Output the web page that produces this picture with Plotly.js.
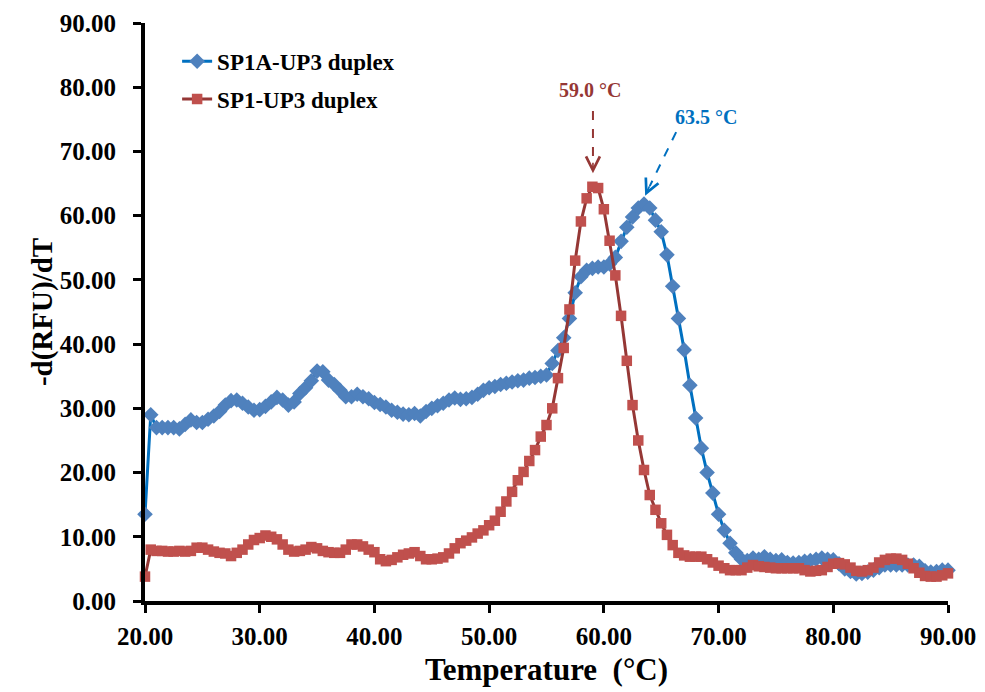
<!DOCTYPE html>
<html>
<head>
<meta charset="utf-8">
<script src="https://cdn.plot.ly/plotly-3.0.1.min.js"></script>
<style>html,body{margin:0;padding:0;background:#fff;}#chart{width:985px;height:692px;}</style>
</head>
<body>
<div id="chart"></div>
<script>
// Temperatures (°C)
const temps = [20,20.5,21,21.5,22,22.5,23,23.5,24,24.5,25,25.5,26,26.5,27,27.5,28,28.5,29,29.5,
30,30.5,31,31.5,32,32.5,33,33.5,34,34.5,35,35.5,36,36.5,37,37.5,38,38.5,39,39.5,
40,40.5,41,41.5,42,42.5,43,43.5,44,44.5,45,45.5,46,46.5,47,47.5,48,48.5,49,49.5,
50,50.5,51,51.5,52,52.5,53,53.5,54,54.5,55,55.5,56,56.5,57,57.5,58,58.5,59,59.5,
60,60.5,61,61.5,62,62.5,63,63.5,64,64.5,65,65.5,66,66.5,67,67.5,68,68.5,69,69.5,
70,70.5,71,71.5,72,72.5,73,73.5,74,74.5,75,75.5,76,76.5,77,77.5,78,78.5,79,79.5,
80,80.5,81,81.5,82,82.5,83,83.5,84,84.5,85,85.5,86,86.5,87,87.5,88,88.5,89,89.5,90];

// SP1A-UP3 duplex
const sp1aUp3 = [13.5,29.0,27.0,27.0,27.0,27.0,26.8,27.5,28.2,27.8,27.8,28.3,28.8,29.5,30.5,31.2,31.3,30.8,30.2,29.7,
29.8,30.3,31.0,31.7,31.3,30.5,31.0,32.3,33.2,34.3,35.8,35.7,34.4,33.7,32.8,31.8,31.8,32.2,31.8,31.5,
30.9,30.6,30.2,29.7,29.4,29.1,29.0,29.2,28.8,29.5,30.0,30.4,30.8,31.3,31.6,31.4,31.5,31.7,32.2,32.8,
33.2,33.4,33.7,33.9,34.1,34.3,34.4,34.7,34.8,35.0,35.2,37.0,39.0,41.0,44.0,48.0,50.5,51.5,51.8,52.0,
52.0,52.5,53.5,56.0,58.2,59.8,61.2,61.8,61.2,59.3,57.5,53.9,49.0,44.0,39.1,33.6,28.5,23.8,20.0,16.8,
13.5,11.0,9.0,7.5,6.5,6.3,6.7,6.5,6.9,6.5,6.3,6.4,6.0,5.9,6.0,6.2,6.3,6.5,6.7,6.5,
6.4,5.8,5.0,4.6,4.2,4.3,4.5,4.8,5.2,5.6,5.6,5.6,5.6,5.6,5.6,5.4,4.7,4.5,4.6,4.8,4.8];

// SP1-UP3 duplex
const sp1Up3 = [3.8,8.0,7.8,7.8,7.7,7.7,7.8,7.7,7.8,8.3,8.3,8.0,7.7,7.5,7.4,7.0,7.5,8.0,8.8,9.5,
9.8,10.2,10.0,9.6,8.8,8.0,7.7,7.8,8.0,8.4,8.2,7.8,7.6,7.5,7.5,8.0,8.8,8.8,8.5,8.0,
7.6,6.5,6.2,6.4,6.8,7.2,7.4,7.6,7.0,6.5,6.5,6.6,6.8,7.4,8.2,9.0,9.4,9.9,10.5,11.0,
11.8,12.5,13.9,15.5,17.0,18.8,20.1,21.8,23.5,25.6,27.4,30.0,34.7,39.4,45.4,53.0,59.1,62.7,64.5,64.3,
61.0,56.1,50.7,44.4,37.4,30.5,25.0,20.4,16.5,14.2,12.1,10.3,8.7,7.5,7.1,6.9,6.9,6.9,6.5,6.0,
5.5,5.1,4.8,4.8,4.8,5.2,5.6,5.4,5.3,5.2,5.1,5.1,5.1,5.1,5.1,4.8,4.6,4.7,4.8,5.3,
5.8,5.9,5.7,5.2,4.7,4.6,4.8,5.2,6.0,6.4,6.6,6.6,6.4,5.8,5.1,4.4,3.9,3.8,3.8,4.0,4.3];

const seriesNames = ["SP1A-UP3 duplex", "SP1-UP3 duplex"];
const tickVals = [20,30,40,50,60,70,80,90];
const yTickVals = [0,10,20,30,40,50,60,70,80,90];
const peakLabels = ["59.0 °C", "63.5 °C"];

const serif = "Liberation Serif, Times New Roman, serif";

const traces = [
  {
    x: temps, y: sp1aUp3, name: seriesNames[0], legendgroup: "a", type: "scatter", mode: "lines+markers",
    line: {color: "#0070C0", width: 3},
    marker: {symbol: "diamond", size: 12, color: "#4F81BD"},
    cliponaxis: false
  },
  {
    x: temps, y: sp1Up3, name: seriesNames[1], legendgroup: "b", type: "scatter", mode: "lines+markers",
    line: {color: "#953735", width: 3},
    marker: {symbol: "square", size: 10.5, color: "#C0504D"},
    cliponaxis: false
  }
];

const layout = {
  width: 985, height: 692,
  margin: {l: 145, r: 37, t: 23, b: 91},
  paper_bgcolor: "#fff", plot_bgcolor: "#fff",
  showlegend: true,
  legend: {
    x: 0.04, y: 0.971, xanchor: "left", yanchor: "top",
    font: {family: serif, size: 23, color: "#000", weight: "bold"},
    bgcolor: "rgba(0,0,0,0)", traceorder: "grouped", tracegroupgap: 5
  },
  xaxis: {
    range: [20, 90], tickvals: tickVals, tickformat: ".2f",
    showgrid: false, zeroline: false,
    showline: true, linecolor: "#000", linewidth: 4,
    ticks: "outside", ticklen: 8, tickwidth: 3, tickcolor: "#000",
    ticklabelstandoff: 2,
    tickfont: {family: serif, size: 25, color: "#000", weight: "bold"},
    title: {text: "Temperature  (°C)", font: {family: serif, size: 31, color: "#000", weight: "bold"}, standoff: 10}
  },
  yaxis: {
    range: [0, 90], tickvals: yTickVals, tickformat: ".2f",
    showgrid: false, zeroline: false,
    showline: true, linecolor: "#000", linewidth: 4,
    ticks: "outside", ticklen: 8, tickwidth: 3, tickcolor: "#000",
    ticklabelstandoff: 12,
    tickfont: {family: serif, size: 25, color: "#000", weight: "bold"},
    title: {text: "-d(RFU)/dT", font: {family: serif, size: 29, color: "#000", weight: "bold"}, standoff: 0}
  },
  shapes: [
    {type: "line", xref: "x", yref: "y", x0: 59.05, y0: 76.3, x1: 59.05, y1: 68.0,
     line: {color: "#953735", width: 2, dash: "dash"}},
    {type: "line", xref: "x", yref: "y", x0: 66.3, y0: 73.0, x1: 64.0, y1: 64.6,
     line: {color: "#0070C0", width: 2, dash: "dash"}}
  ],
  annotations: [
    {x: 58.8, y: 79.5, xref: "x", yref: "y", text: peakLabels[0], showarrow: false,
     font: {family: serif, size: 20, color: "#953735", weight: "bold"}},
    {x: 68.9, y: 75.3, xref: "x", yref: "y", text: peakLabels[1], showarrow: false,
     font: {family: serif, size: 20, color: "#0070C0", weight: "bold"}},
    {x: 59.05, y: 66.6, xref: "x", yref: "y", text: "", showarrow: true,
     ax: 0, ay: -12, arrowhead: 5, arrowsize: 1.7, arrowwidth: 1.6, arrowcolor: "#953735"},
    {x: 63.6, y: 63.1, xref: "x", yref: "y", text: "", showarrow: true,
     ax: 5, ay: -11, arrowhead: 5, arrowsize: 1.7, arrowwidth: 1.6, arrowcolor: "#0070C0"}
  ]
};

Plotly.newPlot("chart", traces, layout, {displayModeBar: false, staticPlot: true});
</script>
</body>
</html>
